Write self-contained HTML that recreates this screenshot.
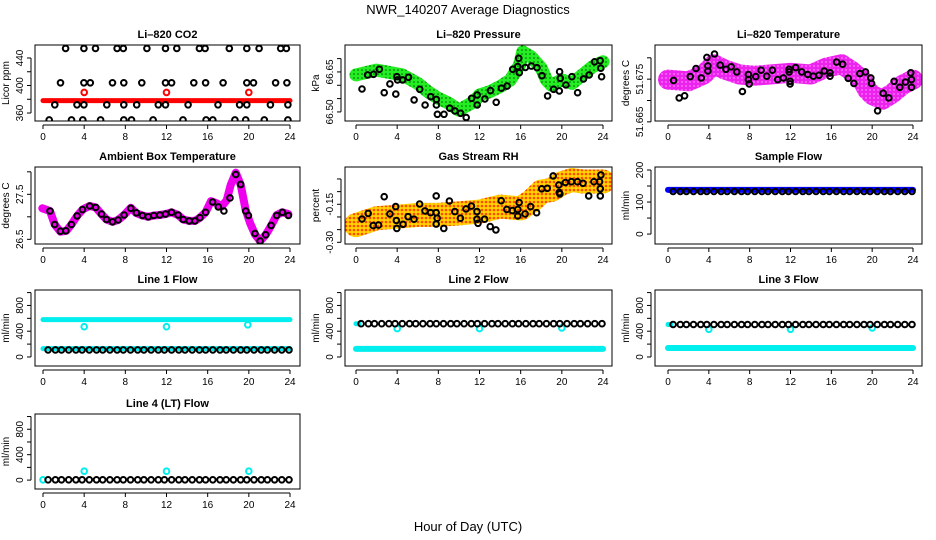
<!DOCTYPE html>
<html><head><meta charset="utf-8">
<style>
html,body{margin:0;padding:0;background:#fff;}
svg{display:block;font-family:"Liberation Sans",Arial,sans-serif;}
</style></head>
<body>
<svg id="chart" width="936" height="540" viewBox="0 0 936 540" xmlns="http://www.w3.org/2000/svg">
<defs>
<pattern id="patRH" width="4" height="4" patternUnits="userSpaceOnUse"><rect width="4" height="4" fill="#ffd400"/><circle cx="2" cy="2" r="1.3" fill="#ff4a00"/></pattern>
<pattern id="patP" width="4" height="4" patternUnits="userSpaceOnUse"><rect width="4" height="4" fill="#22ee22"/><circle cx="2" cy="2" r="0.8" fill="#0a5a0a"/></pattern>
<pattern id="patT" width="4" height="4" patternUnits="userSpaceOnUse"><rect width="4" height="4" fill="#ee22ee"/><circle cx="2" cy="2" r="0.7" fill="#ffb0ff"/></pattern>
</defs>
<text x="468" y="14" text-anchor="middle" font-size="13">NWR_140207  Average Diagnostics</text>
<text x="468" y="531" text-anchor="middle" font-size="13">Hour of Day (UTC)</text>
</svg>
<script>
// ---------- data ----------
const gridHours = [0.5,1.2,1.8,2.5,3.2,3.8,4.5,5.2,5.8,6.5,7.2,7.8,8.5,9.2,9.8,10.5,11.2,11.8,12.5,13.2,13.8,14.5,15.2,15.8,16.5,17.2,17.8,18.5,19.2,19.8,20.5,21.2,21.8,22.5,23.2,23.9];

// CO2
const co2BandHours = [0,24];
const co2BandValues = [378,378];
const co2RedHours = [4,12,20];
const co2RedValues = [390,390,390];
const co2BlackHours = [2.2,3.97,5.1,7.2,7.8,10.1,11.9,13.0,15.2,15.75,18.1,19.8,21.0,23.1,23.65,
 1.7,3.97,4.6,6.75,7.85,9.6,11.9,12.5,14.65,15.8,17.5,19.8,20.45,22.6,23.7,
 1.15,3.3,3.97,6.2,7.85,9.1,11.2,11.9,14.1,17.0,19.1,19.8,22.1,23.8,
 0.6,2.77,3.87,5.6,7.85,8.6,10.7,13.6,15.85,16.5,18.65,19.7,21.5,23.8];
const co2BlackValues = [454,454,454,454,454,454,454,454,454,454,454,454,454,454,454,
 404,404,404,404,404,404,404,404,404,404,404,404,404,404,404,
 372,372,372,372,372,372,372,372,372,372,372,372,372,372,
 350,350,350,350,350,350,350,350,350,350,350,350,350,350];

// Pressure
const presBandHours = [0,2,4.5,6,7,8,9,10,11.5,12,13,14,15,15.9,16.2,17,18,18.5,19,20,21,22,23,24];
const presBandValues = [66.639,66.657,66.639,66.607,66.576,66.551,66.533,66.507,66.539,66.564,66.576,66.595,66.62,66.676,66.725,66.707,66.664,66.62,66.60,66.62,66.607,66.639,66.67,66.688];
const presHours = [0.58,1.13,1.70,2.26,2.74,3.29,3.87,3.97,4.03,4.52,5.10,5.65,6.19,6.71,7.26,7.81,7.81,7.91,8.55,9.10,9.61,10.16,10.71,11.23,11.78,11.78,12.52,13.07,13.62,14.13,14.68,15.23,15.71,15.81,15.87,16.46,17.04,17.59,18.07,18.62,19.20,19.75,19.78,19.85,20.40,20.98,21.53,22.11,22.66,23.18,23.73,23.79,23.86];
const presValues = [66.586,66.639,66.641,66.66,66.572,66.605,66.567,66.632,66.62,66.62,66.63,66.545,66.585,66.526,66.557,66.547,66.526,66.491,66.491,66.514,66.504,66.495,66.479,66.551,66.564,66.526,66.549,66.58,66.536,66.589,66.597,66.66,66.67,66.701,66.647,66.667,66.672,66.666,66.636,66.56,66.585,66.579,66.651,66.626,66.601,66.632,66.572,66.624,66.639,66.688,66.692,66.664,66.632];

// Li-820 temperature
const tempBandHours = [0,2,3.5,4.5,5.5,7,8.5,10,12,14,15.5,17,18,19,19.5,20,21,22,23,24];
const tempBandValues = [51.6749,51.6745,51.6761,51.6785,51.6773,51.6761,51.6758,51.6761,51.6765,51.6761,51.6777,51.6785,51.6769,51.6749,51.6725,51.6713,51.6702,51.6717,51.6737,51.6749];
const tempHours = [0.55,1.10,1.63,2.18,2.74,3.26,3.81,3.91,3.91,4.56,5.11,5.67,6.19,6.74,7.29,7.88,7.88,7.95,8.60,9.12,9.68,10.23,10.75,11.30,11.86,11.86,11.96,11.96,12.51,13.10,13.69,14.23,14.79,15.31,15.87,15.87,16.52,17.11,17.65,18.21,18.80,19.35,19.87,19.94,20.53,21.08,21.63,22.15,22.71,23.26,23.78,23.85,23.85];
const tempValues = [51.6747,51.6706,51.6711,51.6756,51.6775,51.6753,51.6801,51.6781,51.6769,51.6809,51.6783,51.6773,51.6779,51.6767,51.6721,51.6761,51.6749,51.6739,51.6756,51.6771,51.6757,51.6771,51.6749,51.6753,51.6773,51.6767,51.6745,51.6739,51.6777,51.6767,51.6761,51.6757,51.6759,51.6769,51.6765,51.6757,51.6790,51.6785,51.6752,51.6740,51.6763,51.6767,51.6753,51.6740,51.6676,51.6717,51.6706,51.6745,51.6731,51.6743,51.6765,51.6749,51.6731];

// Ambient box temperature
const ambBandHours = [-0.07,0.68,1.14,1.69,2.27,2.76,3.31,3.89,4.54,5.12,5.68,6.17,6.75,7.30,7.88,8.53,9.08,9.66,10.22,10.77,11.35,11.90,12.49,13.13,13.62,14.21,14.76,15.25,15.80,16.32,16.88,17.36,17.85,18.24,18.73,19.21,19.70,20.12,20.60,21.09,21.64,22.16,22.71,23.26,23.84];
const ambBandValues = [27.19,27.13,26.83,26.67,26.69,26.83,27.02,27.17,27.24,27.21,27.06,26.94,26.89,26.93,27.04,27.20,27.08,27.03,27.00,27.03,27.04,27.06,27.10,27.04,26.94,26.91,26.91,26.98,27.10,27.35,27.30,27.23,27.37,27.71,27.98,27.71,27.15,26.86,26.61,26.46,26.60,26.80,27.04,27.10,27.06];
const ambHours = [0.68,1.14,1.69,2.22,2.76,3.31,3.84,4.54,5.12,5.68,6.17,6.75,7.30,7.88,8.53,9.08,9.66,10.22,10.77,11.35,11.90,12.49,13.13,13.62,14.21,14.76,15.25,15.80,16.48,17.03,17.58,18.17,18.73,19.21,19.70,19.96,20.60,21.09,21.64,22.16,22.71,23.26,23.84];
const ambValues = [27.13,26.83,26.68,26.69,26.83,27.02,27.16,27.24,27.21,27.06,26.94,26.89,26.93,27.04,27.19,27.09,27.03,27.00,27.03,27.04,27.06,27.10,27.04,26.94,26.91,26.91,26.98,27.10,27.33,27.22,27.13,27.42,27.94,27.72,27.13,27.03,26.63,26.46,26.60,26.81,27.03,27.10,27.03];

// Gas stream RH
const rhBandHours = [0,2,4,6,8,10,12,14,16,17,18,19,20,21,22,23,24];
const rhBandValues = [-0.232,-0.205,-0.199,-0.192,-0.192,-0.186,-0.179,-0.159,-0.166,-0.139,-0.10,-0.093,-0.067,-0.054,-0.06,-0.06,-0.06];
const rhHours = [0.58,1.19,1.67,2.19,2.74,3.29,3.86,3.93,3.96,4.57,5.06,5.64,6.18,6.70,7.25,7.79,7.79,7.79,7.89,8.53,9.08,9.60,10.14,10.69,11.21,11.76,11.76,11.85,12.50,13.04,13.59,14.11,14.65,15.20,15.72,15.72,15.85,16.43,16.97,17.55,18.04,18.58,19.16,19.71,19.74,19.81,20.35,20.93,21.51,22.06,22.61,23.12,23.67,23.74,23.74,23.80];
const rhValues = [-0.208,-0.186,-0.234,-0.232,-0.120,-0.188,-0.159,-0.214,-0.245,-0.229,-0.199,-0.209,-0.149,-0.176,-0.183,-0.117,-0.183,-0.228,-0.205,-0.245,-0.137,-0.179,-0.205,-0.168,-0.157,-0.179,-0.209,-0.225,-0.209,-0.238,-0.251,-0.136,-0.170,-0.175,-0.170,-0.196,-0.143,-0.188,-0.159,-0.183,-0.089,-0.087,-0.038,-0.074,-0.104,-0.109,-0.064,-0.061,-0.061,-0.067,-0.117,-0.061,-0.061,-0.089,-0.117,-0.034];

// Sample flow
const sampleBandHours = [0,24];
const sampleBandValues = [138,138];
const sampleValues = [133,133,133,133,133,133,133,133,133,133,133,133,133,133,133,133,133,133,133,133,133,133,133,133,133,133,133,133,133,133,133,133,133,133,133,133];

// Line flows
const line1CyanHi = [580,580];
const line1CyanLo = [130,130];
const line1OutHours = [4,12,19.9];
const line1OutValues = [470,470,500];
const line1Values = [110,110,110,110,110,110,110,110,110,110,110,110,110,110,110,110,110,110,110,110,110,110,110,110,110,110,110,110,110,110,110,110,110,110,110,110];

const line2CyanHi = [517,517];
const line2CyanLo = [125,125];
const line2OutHours = [4,12,20];
const line2OutValues = [440,440,450];
const line2Values = [517,517,517,517,517,517,517,517,517,517,517,517,517,517,517,517,517,517,517,517,517,517,517,517,517,517,517,517,517,517,517,517,517,517,517,517];

const line3CyanHi = [505,505];
const line3CyanLo = [140,140];
const line3OutHours = [4,12,20];
const line3OutValues = [430,430,450];
const line3Values = [505,505,505,505,505,505,505,505,505,505,505,505,505,505,505,505,505,505,505,505,505,505,505,505,505,505,505,505,505,505,505,505,505,505,505,505];

const line4OutHours = [0,4,12,20];
const line4OutValues = [5,140,140,140];
const line4Values = [5,5,5,5,5,5,5,5,5,5,5,5,5,5,5,5,5,5,5,5,5,5,5,5,5,5,5,5,5,5,5,5,5,5,5,5];

const xTickValues = [0,4,8,12,16,20,24];
const xTickLabels = ["0","4","8","12","16","20","24"];

// ---------- rendering ----------
const NS = "http://www.w3.org/2000/svg";
const svg = document.getElementById("chart");
function mk(tag, attrs, parent){
  const e = document.createElementNS(NS, tag);
  for (const k in attrs) e.setAttribute(k, attrs[k]);
  (parent||svg).appendChild(e);
  return e;
}
const cols = [{l:35,r:300,x0:43,x24:290},{l:345,r:612,x0:356,x24:603},{l:655,r:922,x0:668,x24:913}];
const rows = [{t:45,b:121},{t:167,b:244},{t:290,b:366},{t:414,b:489}];

function makePanel(name, title, ci, ri, ymin, ymax, yticks, ylabels, ytitle){
  const c = cols[ci], r = rows[ri];
  const g = mk("g", {});
  
  
  const p = {g, l:c.l, r:c.r, t:r.t, b:r.b, x0:c.x0, x24:c.x24, ymin, ymax};
  p.sx = h => p.x0 + h*(p.x24-p.x0)/24;
  p.sy = v => p.b - (v-ymin)/(ymax-ymin)*(p.b-p.t);
  const tt = mk("text", {x:(c.l+c.r)/2, y:r.t-7, "text-anchor":"middle", "font-size":"11", "font-weight":"bold"}, g);
  tt.textContent = title;
  
  
  const xa = mk("g", {}, g);
  
  
  mk("line", {x1:p.sx(0), x2:p.sx(24), y1:r.b+4, y2:r.b+4, stroke:"#000", "stroke-width":"1"}, xa);
  xTickValues.forEach((v,i)=>{
    const x = p.sx(v);
    mk("line", {x1:x, x2:x, y1:r.b+4, y2:r.b+8, stroke:"#000", "stroke-width":"1"}, xa);
    const t = mk("text", {x:x, y:r.b+19, "text-anchor":"middle", "font-size":"10"}, xa);
    t.textContent = xTickLabels[i];
    
    
  });
  const ya = mk("g", {}, g);
  
  
  mk("line", {x1:c.l-4, x2:c.l-4, y1:p.sy(yticks[0]), y2:p.sy(yticks[yticks.length-1]), stroke:"#000", "stroke-width":"1"}, ya);
  yticks.forEach(v=>{
    const y = p.sy(v);
    mk("line", {x1:c.l-8, x2:c.l-4, y1:y, y2:y, stroke:"#000", "stroke-width":"1"}, ya);
  });
  ylabels.forEach(v=>{
    const y = p.sy(v);
    const t = mk("text", {x:0, y:0, "text-anchor":"middle", "font-size":"10", transform:`translate(${c.l-12},${y}) rotate(-90)`}, ya);
    t.textContent = String(v);
    
    
  });
  const yt = mk("text", {x:0, y:0, "text-anchor":"middle", "font-size":"10", transform:`translate(${c.l-26},${(r.t+r.b)/2}) rotate(-90)`}, g);
  yt.textContent = ytitle;
  
  
  const cp = mk("clipPath", {id:"clip-"+name}, g);
  mk("rect", {x:c.l, y:r.t, width:c.r-c.l, height:r.b-r.t}, cp);
  p.plot = mk("g", {"clip-path":`url(#clip-${name})`}, g);
  
  
  p.drawFrame = ()=>{
    const f = mk("rect", {x:c.l, y:r.t, width:c.r-c.l, height:r.b-r.t, fill:"none", stroke:"#000", "stroke-width":"1"}, g);
    
    
  };
  return p;
}
function band(p, hours, values, color, width, name){
  const d = hours.map((h,i)=>(i?"L":"M")+p.sx(h).toFixed(1)+","+p.sy(values[i]).toFixed(1)).join(" ");
  const e = mk("path", {d, fill:"none", stroke:color, "stroke-width":width, "stroke-linecap":"round", "stroke-linejoin":"round"}, p.plot);
  
  
}
function points(p, hours, values, color, name, sw){
  hours.forEach((h,i)=>{
    const e = mk("circle", {cx:p.sx(h).toFixed(1), cy:p.sy(values[i]).toFixed(1), r:"2.8", fill:"none", stroke:color, "stroke-width":sw||"2"}, p.plot);
    
    
  });
}

let p = makePanel("co2","Li\u2013820 CO2",0,0,348.4,458.9,[360,380,400,420,440],[360,400,440],"Licor ppm");
band(p, co2BandHours, co2BandValues, "#ff0000", 5, "co2-band");
points(p, co2RedHours, co2RedValues, "#ff0000", "co2-red-point");
points(p, co2BlackHours, co2BlackValues, "#000", "co2-point");
p.drawFrame();

p = makePanel("pressure","Li\u2013820 Pressure",1,0,66.466,66.751,[66.50,66.55,66.60,66.65,66.70],["66.50","66.65"],"kPa");
band(p, presBandHours, presBandValues, "url(#patP)", 13, "pressure-band");
points(p, presHours, presValues, "#000", "pressure-point");
p.drawFrame();

p = makePanel("li820-temp","Li\u2013820 Temperature",2,0,51.6652,51.683,[51.665,51.670,51.675,51.680],["51.665","51.675"],"degrees C");
band(p, tempBandHours, tempBandValues, "url(#patT)", 20, "li820-temp-band");
points(p, tempHours, tempValues, "#000", "li820-temp-point");
p.drawFrame();

p = makePanel("ambient","Ambient Box Temperature",0,1,26.396,28.107,[26.5,27.0,27.5,28.0],["26.5","27.5"],"degrees C");
band(p, ambBandHours, ambBandValues, "#ee00ee", 8, "ambient-band");
points(p, ambHours, ambValues, "#000", "ambient-point");
p.drawFrame();

p = makePanel("rh","Gas Stream RH",1,1,-0.3067,-0.0028,[-0.30,-0.25,-0.20,-0.15,-0.10,-0.05],["-0.30","-0.15"],"percent");
band(p, rhBandHours, rhBandValues, "url(#patRH)", 24, "rh-band");
points(p, rhHours, rhValues, "#000", "rh-point");
p.drawFrame();

p = makePanel("sample-flow","Sample Flow",2,1,-31,209.4,[0,50,100,150,200],[0,100,200],"ml/min");
band(p, sampleBandHours, sampleBandValues, "#0000ff", 6, "sample-flow-band");
points(p, gridHours, sampleValues, "#000", "sample-flow-point");
p.drawFrame();

const fyt = [0,200,400,600,800,1000], fyl = [0,400,800];
p = makePanel("line1","Line 1 Flow",0,2,-140,1040,fyt,fyl,"ml/min");
band(p, [0,24], line1CyanHi, "#00eeee", 5, "line1-cyan-band");
band(p, [0,24], line1CyanLo, "#00eeee", 5, "line1-cyan-low-band");
points(p, line1OutHours, line1OutValues, "#00eeee", "line1-cyan-point");
points(p, gridHours, line1Values, "#000", "line1-point");
p.drawFrame();

p = makePanel("line2","Line 2 Flow",1,2,-140,1040,fyt,fyl,"ml/min");
band(p, [0,0.3], line2CyanHi, "#00eeee", 5, "line2-cyan-start");
band(p, [0,24], line2CyanLo, "#00eeee", 6, "line2-cyan-band");
points(p, line2OutHours, line2OutValues, "#00eeee", "line2-cyan-point");
points(p, gridHours, line2Values, "#000", "line2-point");
p.drawFrame();

p = makePanel("line3","Line 3 Flow",2,2,-140,1040,fyt,fyl,"ml/min");
band(p, [0,0.3], line3CyanHi, "#00eeee", 5, "line3-cyan-start");
band(p, [0,24], line3CyanLo, "#00eeee", 6, "line3-cyan-band");
points(p, line3OutHours, line3OutValues, "#00eeee", "line3-cyan-point");
points(p, gridHours, line3Values, "#000", "line3-point");
p.drawFrame();

p = makePanel("line4","Line 4 (LT) Flow",0,3,-140,1040,fyt,fyl,"ml/min");
points(p, line4OutHours, line4OutValues, "#00eeee", "line4-cyan-point");
points(p, gridHours, line4Values, "#000", "line4-point");
p.drawFrame();
</script>
</body></html>
